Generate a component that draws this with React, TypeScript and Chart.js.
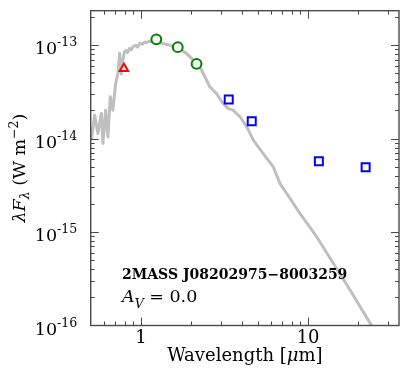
import React, { useEffect, useRef } from 'react';
import { Chart, registerables } from 'chart.js';

Chart.register(...registerables);

// ---- data ----
const modelWavelength = [0.504, 0.528, 0.552, 0.579, 0.592, 0.614, 0.634, 0.655, 0.679, 0.705, 0.728, 0.745, 0.763, 0.780, 0.795, 0.810, 0.83, 0.855, 0.875, 0.895, 0.93, 0.955, 0.982, 1.02, 1.05, 1.077, 1.12, 1.18, 1.24, 1.295, 1.38, 1.486, 1.6, 1.707, 1.873, 2.05, 2.25, 2.41, 2.58, 2.83, 3.10, 3.32, 3.56, 3.91, 4.29, 4.70, 5.39, 6.19, 6.79, 7.45, 8.95, 11.3, 14.2, 17.9, 23.5, 25.8];
const modelFlux = [9.6e-15, 1.78e-14, 1.13e-14, 1.85e-14, 8.85e-15, 2.01e-14, 1.04e-14, 2.79e-14, 2.01e-14, 3.88e-14, 4.97e-14, 8.15e-14, 4.9e-14, 6.9e-14, 8.4e-14, 8.8e-14, 8.3e-14, 9.2e-14, 8.9e-14, 9.6e-14, 9.9e-14, 9.5e-14, 1.05e-13, 1.02e-13, 1.08e-13, 1.06e-13, 1.1e-13, 1.09e-13, 1.12e-13, 1.06e-13, 1.03e-13, 1.0e-13, 9.3e-14, 9.0e-14, 8.15e-14, 6.9e-14, 5.86e-14, 4.58e-14, 3.58e-14, 3.03e-14, 2.37e-14, 2.10e-14, 2.01e-14, 1.71e-14, 1.34e-14, 9.6e-15, 6.9e-15, 4.97e-15, 3.30e-15, 2.58e-15, 1.57e-15, 8.8e-16, 4.58e-16, 2.37e-16, 1.06e-16, 8.1e-17];

const opticalWavelength = [0.79];
const opticalFlux = [5.6e-14];
const nirWavelength = [1.235, 1.66, 2.15];
const nirFlux = [1.15e-13, 9.5e-14, 6.3e-14];
const midIrWavelength = [3.35, 4.6, 11.6, 22.1];
const midIrFlux = [2.62e-14, 1.535e-14, 5.71e-15, 4.93e-15];

const xLimits = [0.5, 35];
const yLimits = [1e-16, 2.33e-13];
const xMajorTicks = [1, 10];
const xTickLabels = ['1', '10'];
const xMinorTicks = [0.6, 0.7, 0.8, 0.9, 2, 3, 4, 5, 6, 7, 8, 9, 20, 30];
const yMajorExponents = [-13, -14, -15, -16];
const yMinorMultipliers = [2, 3, 4, 5, 6, 7, 8, 9];

const starName = '2MASS J08202975\u22128003259';
const extinctionText = ' = 0.0';

const SERIF = "'DejaVu Serif', serif";
const FRAME = '#4a4a4a';

type Run = { t: string; font: string; dy: number };

function drawRuns(ctx: CanvasRenderingContext2D, runs: Run[], x: number, y: number) {
  let cx = x;
  for (const r of runs) {
    ctx.font = r.font;
    ctx.fillText(r.t, cx, y + r.dy);
    cx += ctx.measureText(r.t).width;
  }
  return cx - x;
}
function runsWidth(ctx: CanvasRenderingContext2D, runs: Run[]) {
  let w = 0;
  for (const r of runs) {
    ctx.font = r.font;
    w += ctx.measureText(r.t).width;
  }
  return w;
}

const sedPlugin = {
  id: 'sedFrame',
  afterDraw(chart: any) {
    const { ctx, chartArea: a, scales } = chart;
    const xs = scales.x;
    const ys = scales.y;
    ctx.save();
    // frame
    ctx.strokeStyle = FRAME;
    ctx.lineWidth = 1.4;
    ctx.strokeRect(a.left, a.top, a.right - a.left, a.bottom - a.top);
    // ticks
    ctx.lineWidth = 1;
    const vtick = (px: number, len: number) => {
      ctx.beginPath();
      ctx.moveTo(px, a.bottom); ctx.lineTo(px, a.bottom - len);
      ctx.moveTo(px, a.top); ctx.lineTo(px, a.top + len);
      ctx.stroke();
    };
    const htick = (py: number, len: number) => {
      ctx.beginPath();
      ctx.moveTo(a.left, py); ctx.lineTo(a.left + len, py);
      ctx.moveTo(a.right, py); ctx.lineTo(a.right - len, py);
      ctx.stroke();
    };
    xMajorTicks.forEach(v => vtick(Math.round(xs.getPixelForValue(v)) + 0.5, 8));
    xMinorTicks.forEach(v => vtick(Math.round(xs.getPixelForValue(v)) + 0.5, 4));
    yMajorExponents.forEach(e => {
      const v = Math.pow(10, e);
      if (v > yLimits[0] && v < yLimits[1]) htick(Math.round(ys.getPixelForValue(v)) + 0.5, 8);
      yMinorMultipliers.forEach(m => {
        const mv = m * v;
        if (mv > yLimits[0] && mv < yLimits[1]) htick(Math.round(ys.getPixelForValue(mv)) + 0.5, 4);
      });
    });

    ctx.fillStyle = '#000';
    ctx.textBaseline = 'alphabetic';
    ctx.textAlign = 'left';
    // y tick labels
    yMajorExponents.forEach(e => {
      const py = ys.getPixelForValue(Math.pow(10, e));
      const runs: Run[] = [
        { t: '10', font: `17.5px ${SERIF}`, dy: 0 },
        { t: `-${Math.abs(e)}`, font: `12.5px ${SERIF}`, dy: -8 },
      ];
      const w = runsWidth(ctx, runs);
      drawRuns(ctx, runs, a.left - 13.5 - w, py + 9);
    });
    // x tick labels
    ctx.textAlign = 'center';
    ctx.font = `18px ${SERIF}`;
    xMajorTicks.forEach((v, i) => {
      ctx.fillText(xTickLabels[i], xs.getPixelForValue(v), a.bottom + 17);
    });
    ctx.textAlign = 'left';
    // x title
    const xRuns: Run[] = [
      { t: 'Wavelength [', font: `18px ${SERIF}`, dy: 0 },
      { t: 'μ', font: `italic 18px ${SERIF}`, dy: 0 },
      { t: 'm]', font: `18px ${SERIF}`, dy: 0 },
    ];
    const xw = runsWidth(ctx, xRuns);
    drawRuns(ctx, xRuns, (a.left + a.right) / 2 - xw / 2, 361);
    // y title
    const yRuns: Run[] = [
      { t: 'λF', font: `italic 17.5px ${SERIF}`, dy: 0 },
      { t: 'λ', font: `italic 12.5px ${SERIF}`, dy: 4 },
      { t: ' (W m', font: `17.5px ${SERIF}`, dy: 0 },
      { t: '\u22122', font: `12.5px ${SERIF}`, dy: -7 },
      { t: ')', font: `17.5px ${SERIF}`, dy: 0 },
    ];
    const yw = runsWidth(ctx, yRuns);
    ctx.save();
    ctx.translate(24.5, (a.top + a.bottom) / 2);
    ctx.rotate(-Math.PI / 2);
    drawRuns(ctx, yRuns, -yw / 2, 0);
    ctx.restore();
    // annotations
    ctx.font = `bold 14px ${SERIF}`;
    ctx.fillText(starName, 122, 279);
    drawRuns(ctx, [
      { t: 'A', font: `italic 17.5px ${SERIF}`, dy: 0 },
      { t: 'V', font: `italic 12.5px ${SERIF}`, dy: 6 },
      { t: extinctionText, font: `17.5px ${SERIF}`, dy: 0 },
    ], 122, 301.7);
    ctx.restore();
  },
};

const toPoints = (xs: number[], ys: number[]) => xs.map((x, i) => ({ x, y: ys[i] }));

export default function App() {
  const ref = useRef<HTMLCanvasElement>(null);
  useEffect(() => {
    if (!ref.current) return;
    const chart = new Chart(ref.current, {
      type: 'scatter',
      data: {
        datasets: [
          {
            label: 'optical',
            data: toPoints(opticalWavelength, opticalFlux),
            pointStyle: 'triangle',
            pointRadius: 4.9,
            borderColor: '#ff0000',
            backgroundColor: '#ffffff',
            borderWidth: 2,
            order: 0,
          },
          {
            label: '2MASS',
            data: toPoints(nirWavelength, nirFlux),
            pointStyle: 'circle',
            pointRadius: 4.9,
            borderColor: '#008000',
            backgroundColor: '#ffffff',
            borderWidth: 2,
            order: 0,
          },
          {
            label: 'WISE',
            data: toPoints(midIrWavelength, midIrFlux),
            pointStyle: 'rect',
            pointRadius: 5.66,
            borderColor: '#0000ff',
            backgroundColor: '#ffffff',
            borderWidth: 2,
            order: 0,
          },
          {
            type: 'line',
            label: 'model',
            data: toPoints(modelWavelength, modelFlux),
            borderColor: '#bfbfbf',
            borderWidth: 3,
            pointRadius: 0,
            tension: 0,
            borderJoinStyle: 'round',
            fill: false,
            order: 10,
          } as any,
        ],
      },
      options: {
        animation: false,
        responsive: false,
        maintainAspectRatio: false,
        layout: { padding: { left: 90.7, right: 12, top: 10.7, bottom: 49.5 } },
        plugins: { legend: { display: false }, tooltip: { enabled: false } },
        scales: {
          x: { type: 'logarithmic', min: xLimits[0], max: xLimits[1], display: false },
          y: { type: 'logarithmic', min: yLimits[0], max: yLimits[1], display: false },
        },
      },
      plugins: [sedPlugin],
    });
    return () => chart.destroy();
  }, []);
  return (
    <div style={{ position: 'fixed', left: 0, top: 0, width: 411, height: 375, background: '#fff' }}>
      <canvas ref={ref} width={411} height={375} style={{ width: 411, height: 375, display: 'block' }} />
    </div>
  );
}
